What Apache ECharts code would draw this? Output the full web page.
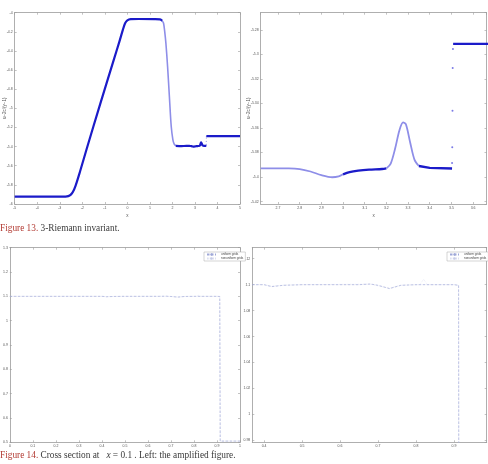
<!DOCTYPE html>
<html>
<head>
<meta charset="utf-8">
<script src="https://cdn.jsdelivr.net/npm/echarts@6/dist/echarts.min.js"></script>
<style>
html, body { margin: 0; padding: 0; background: #fff; }
#main { width: 488px; height: 464px; }
</style>
</head>
<body>
<div id="main"></div>
<script>
// Figure 13: 3-Riemann invariant, left full view, right zoom near x = 3.5
var riseSeg = [[-5, -5.922], [-2.75, -5.922], [-2.62, -5.918], [-2.52, -5.905], [-2.42, -5.875], [-2.3, -5.81],
	[-2.1, -5.66], [-1.8, -5.42], [-1.2, -4.95], [-0.6, -4.49], [-0.35, -4.3], [-0.2, -4.18], [-0.1, -4.11],
	[0.0, -4.08], [0.15, -4.068], [0.5, -4.066], [1.2, -4.067], [1.45, -4.07], [1.55, -4.085]];
var dropSeg = [[1.55, -4.085], [1.607, -4.11], [1.66, -4.2], [1.711, -4.32], [1.785, -4.56], [1.874, -4.91],
	[1.948, -5.19], [2.022, -5.33], [2.08, -5.375], [2.15, -5.392]];
var flatSeg = [[2.15, -5.392], [2.4, -5.394], [2.62, -5.393]];
var segA = [[2.62, -5.393], [2.75, -5.393], [2.8, -5.3935], [2.85, -5.3955], [2.9, -5.3985], [2.95, -5.4002], [2.98, -5.3995], [3.0, -5.3978]];
var segB = [[3.0, -5.3978], [3.03, -5.396], [3.07, -5.3948], [3.12, -5.394], [3.18, -5.3935], [3.2, -5.393]];
var segC = [[3.2, -5.393], [3.22, -5.389], [3.24, -5.377], [3.26, -5.362], [3.277, -5.3555], [3.29, -5.357], [3.31, -5.372], [3.33, -5.386], [3.35, -5.391]];
var segD = [[3.35, -5.391], [3.4, -5.3925], [3.503, -5.393]];
var jumpDots = [[3.503, -5.3886], [3.504, -5.3758], [3.505, -5.3459], [3.506, -5.311], [3.507, -5.2955]];
var segF = [[3.508, -5.2914], [3.58, -5.2914], [3.7, -5.2914], [5, -5.2914]];

// Figure 14: cross section at x = 0.1
var uniformGrids = [[0, 1.1], [0.3, 1.1], [0.4, 1.1], [0.42, 1.0985], [0.45, 1.0995], [0.5, 1.1], [0.65, 1.1], [0.68, 1.1005],
	[0.7, 1.0995], [0.73, 1.097], [0.76, 1.0995], [0.8, 1.1], [0.9, 1.1], [0.912, 1.0995], [0.914, 0.505], [1, 0.505]];
var nonuniformGrids = [[0, 1.1], [0.4, 1.1], [0.42, 1.0988], [0.45, 1.0996], [0.5, 1.1], [0.68, 1.1004], [0.73, 1.0972],
	[0.76, 1.0996], [0.81, 1.1], [0.82, 1.1042], [0.83, 1.1], [0.9, 1.1], [0.912, 1.0995], [0.914, 0.505], [1, 0.505]];

var yName = 'u\u22122c/(\u03b3\u22121)';
var dark = '#1b1bc9', light = '#8e8ee8', gridBlue = '#9fa8d8';
var axisGray = '#9a9a9a';

var myChart = echarts.init(document.getElementById('main'), null, { renderer: 'canvas' });

function baseAxis(g, pos, min, max, extra) {
	var a = {
		type: 'value', gridIndex: g, position: pos, min: min, max: max,
		axisLine: { onZero: false, lineStyle: { color: axisGray, width: 0.8 } },
		axisTick: { inside: true, length: 2, lineStyle: { color: axisGray, width: 0.6 } },
		splitLine: { show: false },
		axisLabel: { show: pos == 'bottom' || pos == 'left', fontSize: 3.5, color: '#555', margin: 2, fontFamily: 'Liberation Sans' }
	};
	for (var k in extra) a[k] = extra[k];
	return a;
}

var xAxis = [], yAxis = [];
function addAxes(g, xmin, xmax, xo, ymin, ymax, yo, xname, yname, ygap) {
	var xb = baseAxis(g, 'bottom', xmin, xmax, xo);
	if (xname) { xb.name = xname; xb.nameLocation = 'middle'; xb.nameGap = 9; xb.nameMoveOverlap = false; xb.nameTextStyle = { fontSize: 4.5, color: '#555' }; }
	xAxis.push(xb, baseAxis(g, 'top', xmin, xmax, xo));
	var yl = baseAxis(g, 'left', ymin, ymax, yo);
	if (yname) { yl.name = yname; yl.nameLocation = 'middle'; yl.nameGap = ygap; yl.nameMoveOverlap = false; yl.nameTextStyle = { fontSize: 4.5, color: '#555' }; }
	yAxis.push(yl, baseAxis(g, 'right', ymin, ymax, yo));
}

addAxes(0, -5, 5, { interval: 1 }, -6, -4, { interval: 0.2 }, 'x', yName, 7);
addAxes(1, 2.62, 3.662, { splitNumber: 10 }, -5.422, -5.266, { splitNumber: 8 }, 'x', yName, 9);
addAxes(2, 0, 1, { interval: 0.1 }, 0.5, 1.3, { interval: 0.1 });
addAxes(3, 0.369, 0.986, { splitNumber: 6 }, 0.9785, 1.1285, { splitNumber: 7 });

// hide min/max labels on the zoomed axes
[xAxis[2], yAxis[2], xAxis[6], yAxis[6]].forEach(function(a) {
	a.axisLabel = { fontSize: 3.5, color: '#555', margin: 2, fontFamily: 'Liberation Sans', showMinLabel: false, showMaxLabel: false };
});

function line(g, data, color, width, extra) {
	var s = {
		type: 'line', xAxisIndex: 2 * g, yAxisIndex: 2 * g, data: data,
		symbol: 'none', smooth: 0.3, clip: true, silent: true,
		lineStyle: { color: color, width: width }
	};
	for (var k in extra) s[k] = extra[k];
	return s;
}

var legendStyle = function(left) {
	return { left: left, top: 252, orient: 'vertical', data: ['uniform grids', 'nonuniform grids'], itemWidth: 9, itemHeight: 3, itemGap: 1,
		padding: [1, 2], borderColor: '#aaa', borderWidth: 0.5, backgroundColor: '#fff', textStyle: { fontSize: 3, color: '#444' }, selectedMode: false };
};

option = {
	animation: false,
	backgroundColor: '#fff',
	grid: [
		{ left: 14.7, right: 248, top: 12.7, bottom: 260 },
		{ left: 260.7, right: 1.5, top: 12.7, bottom: 260 },
		{ left: 9, right: 248, top: 247.7, bottom: 21.7 },
		{ left: 252.3, right: 1.3, top: 247.7, bottom: 21.7 }
	],
	xAxis: xAxis,
	yAxis: yAxis,
	legend: [legendStyle(204), legendStyle(447)],
	graphic: [
		{ type: 'text', left: 0, top: 224, style: { text: '{r|Figure 13.} 3-Riemann invariant.', fill: '#3a3a3a',
			font: '9.3px "Liberation Serif"', rich: { r: { fill: '#b23a32', font: '9.3px "Liberation Serif"' } } } },
		{ type: 'text', left: 0, top: 451, style: { text: '{r|Figure 14.} Cross section at   {i|x} = 0.1 . Left: the amplified figure.', fill: '#3a3a3a',
			font: '9.3px "Liberation Serif"', rich: { r: { fill: '#b23a32', font: '9.3px "Liberation Serif"' }, i: { font: 'italic 9.3px "Liberation Serif"' } } } }
	],
	series: [
		line(0, riseSeg, dark, 2.2),
		line(0, dropSeg, light, 1.6),
		line(0, flatSeg.concat(segA, segB, segC, segD), dark, 2.2),
		line(0, segF, dark, 2.2, { smooth: false }),
		{ type: 'scatter', xAxisIndex: 0, yAxisIndex: 0, data: jumpDots, symbolSize: 1.2, itemStyle: { color: light }, silent: true },

		line(1, segA, light, 1.8),
		line(1, segB, dark, 2.4),
		line(1, segC, light, 1.8),
		line(1, segD, dark, 2.4, { smooth: false }),
		{ type: 'scatter', xAxisIndex: 2, yAxisIndex: 2, data: jumpDots, symbolSize: 2, itemStyle: { color: '#5a5ae0' }, silent: true },
		line(1, segF, dark, 2.4, { smooth: false }),

		line(2, uniformGrids, gridBlue, 0.7, { name: 'uniform grids', smooth: false, lineStyle: { color: gridBlue, width: 0.7, type: [2.5, 1.5] }, itemStyle: { color: gridBlue } }),
		line(2, nonuniformGrids, '#c6cbe6', 0.5, { name: 'nonuniform grids', smooth: false, lineStyle: { color: '#c6cbe6', width: 0.5, type: [0.6, 1] }, itemStyle: { color: '#c6cbe6' } }),
		line(3, uniformGrids, gridBlue, 0.7, { name: 'uniform grids', smooth: false, lineStyle: { color: gridBlue, width: 0.7, type: [2.5, 1.5] }, itemStyle: { color: gridBlue } }),
		line(3, nonuniformGrids, '#c6cbe6', 0.5, { name: 'nonuniform grids', smooth: false, lineStyle: { color: '#c6cbe6', width: 0.5, type: [0.6, 1] }, itemStyle: { color: '#c6cbe6' } })
	]
};

myChart.setOption(option);
</script>
</body>
</html>
